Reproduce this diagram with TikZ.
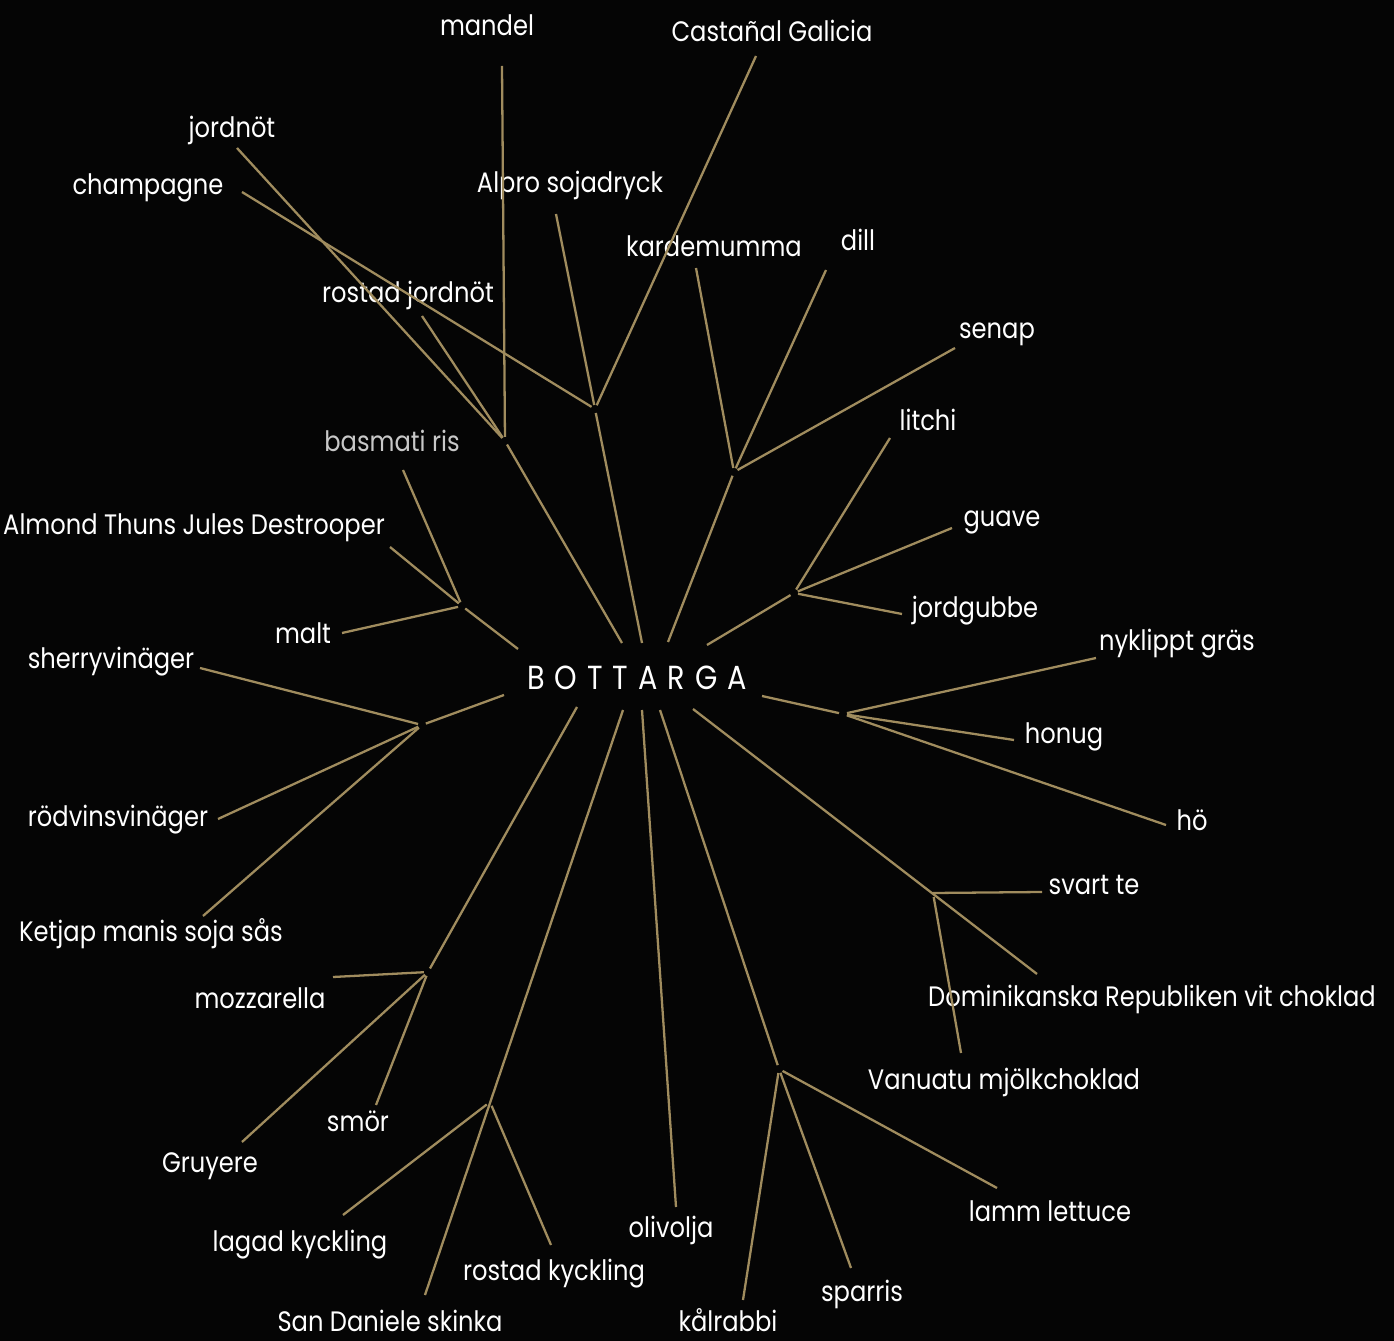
\documentclass[tikz,border=0pt]{standalone}
\usepackage{fontspec}
\setmainfont{Poppins}[FakeStretch=0.86]
\usepackage{xcolor}
\usepackage{tikz}
\usetikzlibrary{positioning}
\definecolor{gold}{RGB}{160,140,94}
\definecolor{night}{RGB}{5,5,5}
\definecolor{dimtext}{RGB}{200,200,200}
\tikzstyle{leaf} = [text=white, inner sep=0pt, text height=11.8pt, text depth=0pt, font=\fontsize{16}{18}\selectfont]
\tikzstyle{faint} = [leaf, text=dimtext]
\tikzstyle{hub} = [text=white, inner sep=0pt, font=\fontsize{19}{22}\selectfont\addfontfeature{LetterSpace=30}]
\tikzstyle{link} = [draw=gold, line width=1.3pt, shorten >=2.3pt]

\begin{document}
\begin{tikzpicture}[x=0.02cm, y=-0.02cm]

\fill[night] (0,0) rectangle (1394,1341);
\useasboundingbox (0,0) rectangle (1394,1341);

% centre
\node[hub] (bottarga) at (637,678) {BOTTARGA};

% labels, top half
\node[leaf] (mandel) at (487,25) {mandel};
\node[leaf] (castanal) at (772,31) {Castañal Galicia};
\node[leaf] (jordnot) at (232,127) {jordnöt};
\node[leaf] (champagne) at (148,184) {champagne};
\node[leaf] (alpro) at (570,182) {Alpro sojadryck};
\node[leaf] (kardemumma) at (714,246) {kardemumma};
\node[leaf] (dill) at (858,240) {dill};
\node[leaf] (rostad_jordnot) at (408,292) {rostad jordnöt};
\node[leaf] (senap) at (997,328) {senap};
\node[leaf] (litchi) at (928,420) {litchi};
\node[faint] (basmati) at (392,441) {basmati ris};
\node[leaf] (almond) at (194,524) {Almond Thuns Jules Destrooper};
\node[leaf] (guave) at (1002,516) {guave};
\node[leaf] (jordgubbe) at (975,607) {jordgubbe};
\node[leaf] (malt) at (303,633) {malt};
\node[leaf] (nyklippt) at (1177,640) {nyklippt gräs};
\node[leaf] (sherry) at (111,658) {sherryvinäger};

% labels, bottom half
\node[leaf] (honug) at (1064,733) {honug};
\node[leaf] (rodvin) at (118,816) {rödvinsvinäger};
\node[leaf] (ho) at (1192,820) {hö};
\node[leaf] (svart_te) at (1094,884) {svart te};
\node[leaf] (ketjap) at (151,931) {Ketjap manis soja sås};
\node[leaf] (dominikanska) at (1152,996) {Dominikanska Republiken vit choklad};
\node[leaf] (mozzarella) at (260,998) {mozzarella};
\node[leaf] (vanuatu) at (1004,1079) {Vanuatu mjölkchoklad};
\node[leaf] (smor) at (358,1121) {smör};
\node[leaf] (gruyere) at (210,1162) {Gruyere};
\node[leaf] (lamm) at (1050,1211) {lamm lettuce};
\node[leaf] (olivolja) at (671,1227) {olivolja};
\node[leaf] (lagad) at (300,1241) {lagad kyckling};
\node[leaf] (rostad_kyckling) at (554,1270) {rostad kyckling};
\node[leaf] (sparris) at (862,1291) {sparris};
\node[leaf] (san_daniele) at (390,1321) {San Daniele skinka};
\node[leaf] (kalrabbi) at (728,1321) {kålrabbi};

% forks
\coordinate (fork1) at (505,441);
\coordinate (fork2) at (595,409);
\coordinate (fork3) at (734,472);
\coordinate (fork4) at (794,593);
\coordinate (fork5) at (843,714);
\coordinate (fork6) at (933,893);
\coordinate (fork7) at (779,1069);
\coordinate (fork8) at (490,1102);
\coordinate (fork9) at (428,972);
\coordinate (fork10) at (422,725);
\coordinate (fork11) at (462,606);

% where the spokes leave the centre
\coordinate (root1) at (622,643);
\coordinate (root2) at (642,643);
\coordinate (root3) at (668,642);
\coordinate (root4) at (707,645);
\coordinate (root5) at (762,696);
\coordinate (root6) at (693,709);
\coordinate (root7) at (660,710);
\coordinate (root_olivolja) at (642,710);
\coordinate (root8) at (623,710);
\coordinate (root9) at (577,707);
\coordinate (root10) at (504,695);
\coordinate (root11) at (518,649);

% free ends next to the labels
\coordinate (mandel_end) at (502,66);
\coordinate (jordnot_end) at (237,148);
\coordinate (rostad_jordnot_end) at (422,316);
\coordinate (champagne_end) at (242,192);
\coordinate (castanal_end) at (756,56);
\coordinate (alpro_end) at (556,214);
\coordinate (kardemumma_end) at (696,268);
\coordinate (dill_end) at (826,270);
\coordinate (senap_end) at (955,348);
\coordinate (litchi_end) at (890,438);
\coordinate (guave_end) at (952,528);
\coordinate (jordgubbe_end) at (902,614);
\coordinate (nyklippt_end) at (1096,658);
\coordinate (honug_end) at (1014,740);
\coordinate (ho_end) at (1166,825);
\coordinate (dominikanska_end) at (1037,974);
\coordinate (svart_te_end) at (1042,892);
\coordinate (vanuatu_end) at (961,1053);
\coordinate (lamm_end) at (997,1188);
\coordinate (sparris_end) at (851,1268);
\coordinate (kalrabbi_end) at (743,1300);
\coordinate (olivolja_end) at (676,1207);
\coordinate (san_daniele_end) at (425,1295);
\coordinate (lagad_end) at (343,1215);
\coordinate (rostad_kyckling_end) at (551,1245);
\coordinate (mozzarella_end) at (333,977);
\coordinate (gruyere_end) at (242,1142);
\coordinate (smor_end) at (376,1105);
\coordinate (sherry_end) at (200,668);
\coordinate (rodvin_end) at (218,819);
\coordinate (ketjap_end) at (203,916);
\coordinate (almond_end) at (390,547);
\coordinate (malt_end) at (342,633);
\coordinate (basmati_end) at (403,470);

% spokes from the centre to the forks
\foreach \i in {1,2,3,4,5,7,9,10,11}
  \draw[link] (root\i) -- (fork\i);

% spokes that run straight through their fork
\draw[link, shorten >=0pt] (root6) -- (dominikanska_end);
\draw[link, shorten >=0pt] (root8) -- (san_daniele_end);
\draw[link, shorten >=0pt] (root_olivolja) -- (olivolja_end);

% nuts
\draw[link] (mandel_end) -- (fork1);
\draw[link] (jordnot_end) -- (fork1);
\draw[link] (rostad_jordnot_end) -- (fork1);

% champagne and chestnut
\draw[link] (champagne_end) -- (fork2);
\draw[link] (castanal_end) -- (fork2);
\draw[link] (alpro_end) -- (fork2);

% spices
\draw[link] (kardemumma_end) -- (fork3);
\draw[link] (dill_end) -- (fork3);
\draw[link] (senap_end) -- (fork3);

% fruit
\draw[link] (litchi_end) -- (fork4);
\draw[link] (guave_end) -- (fork4);
\draw[link] (jordgubbe_end) -- (fork4);

% grass and honey
\draw[link] (nyklippt_end) -- (fork5);
\draw[link] (honug_end) -- (fork5);
\draw[link] (ho_end) -- (fork5);

% chocolate
\draw[link, shorten >=0pt] (svart_te_end) -- (fork6);
\draw[link] (vanuatu_end) -- (fork6);

% vegetables
\draw[link] (lamm_end) -- (fork7);
\draw[link] (sparris_end) -- (fork7);
\draw[link] (kalrabbi_end) -- (fork7);

% chicken
\draw[link] (lagad_end) -- (fork8);
\draw[link] (rostad_kyckling_end) -- (fork8);

% cheese
\draw[link] (mozzarella_end) -- (fork9);
\draw[link] (gruyere_end) -- (fork9);
\draw[link] (smor_end) -- (fork9);

% vinegar and soy
\draw[link] (sherry_end) -- (fork10);
\draw[link] (rodvin_end) -- (fork10);
\draw[link] (ketjap_end) -- (fork10);

% malt and rice
\draw[link] (almond_end) -- (fork11);
\draw[link] (malt_end) -- (fork11);
\draw[link] (basmati_end) -- (fork11);

\end{tikzpicture}
\end{document}
